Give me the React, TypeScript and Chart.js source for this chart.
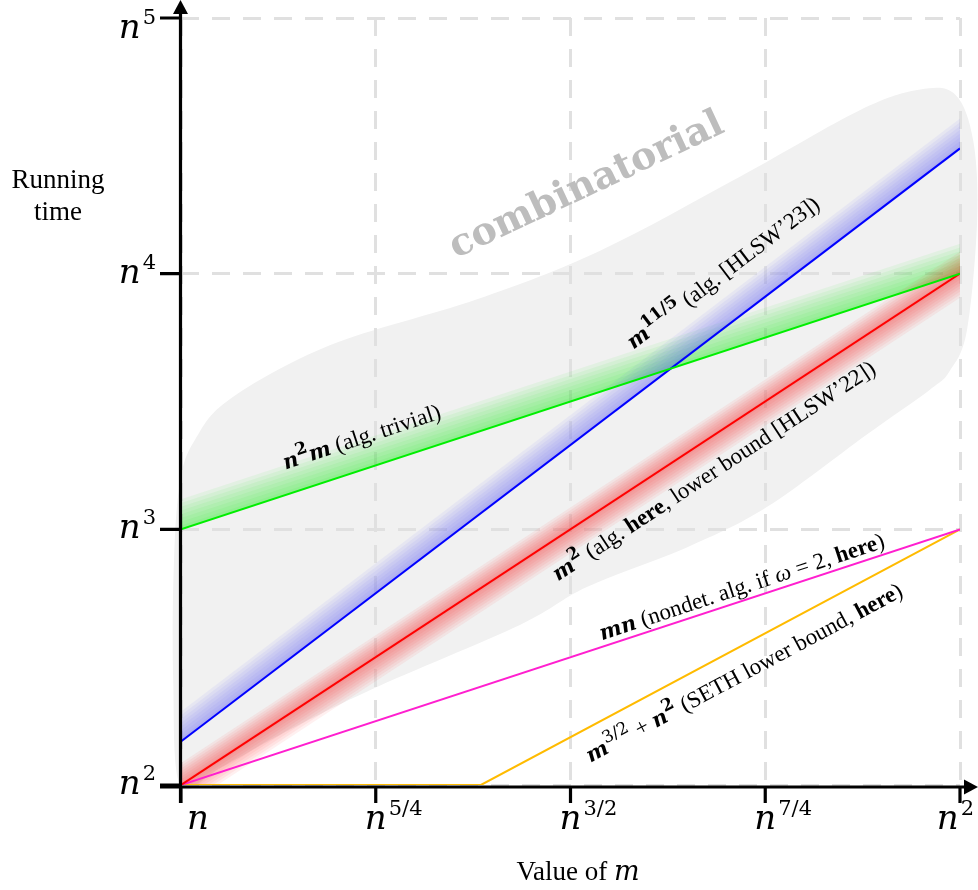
import React, { useEffect, useRef } from 'react';
import { Chart, registerables } from 'chart.js';

Chart.register(...registerables);

// ---- axis ticks (exponents of n) ----
const xTicks = [1, 1.25, 1.5, 1.75, 2];
const xTickSup = ['', '5/4', '3/2', '7/4', '2'];
const yTicks = [2, 3, 4, 5];
const yTickSup = ['2', '3', '4', '5'];

// ---- series (x = log_n m, y = log_n running time) ----
const greenX = [1, 2];
const greenY = [3, 4];
const blueX = [1, 2];
const blueY = [2.17, 4.49];
const redX = [1, 2];
const redY = [2, 4];
const magentaX = [1, 2];
const magentaY = [2, 3];
const orangeX = [1, 1.385, 2];
const orangeY = [2, 2, 3];

// ---- "combinatorial" region outline ----
const blobX = [0.999, 0.99, 0.991, 0.999, 1.018, 1.063, 1.191, 1.38, 1.538, 1.718, 1.872, 1.949, 1.994, 2.017, 2.022, 2.009, 1.987, 1.961, 1.88, 1.752, 1.65, 1.521, 1.435, 1.243, 1.127, 1.05];
const blobY = [2.0, 2.41, 2.88, 3.19, 3.35, 3.51, 3.72, 3.9, 4.09, 4.38, 4.64, 4.72, 4.7, 4.52, 4.21, 3.78, 3.62, 3.545, 3.37, 3.087, 2.93, 2.774, 2.626, 2.372, 2.196, 2.066];

type Seg = { t: string; b?: boolean; i?: boolean; sup?: boolean; math?: boolean };

const labels: { ds: number; seg?: number; x: number; y: number; segs: Seg[] }[] = [
  { ds: 0, x: 1.232, y: 3.36, segs: [{ t: 'n', b: true, i: true, math: true }, { t: '2', sup: true, b: true, math: true }, { t: 'm', b: true, i: true, math: true }, { t: ' (alg. trivial)' }] },
  { ds: 1, x: 1.696, y: 4.003, segs: [{ t: 'm', b: true, i: true, math: true }, { t: '11/5', sup: true, b: true, math: true }, { t: ' (alg. [HLSW\u201923])' }] },
  { ds: 2, x: 1.684, y: 3.228, segs: [{ t: 'm', b: true, i: true, math: true }, { t: '2', sup: true, b: true, math: true }, { t: ' (alg. ' }, { t: 'here', b: true }, { t: ', lower bound [HLSW\u201922])' }] },
  { ds: 3, x: 1.72, y: 2.774, segs: [{ t: 'mn', b: true, i: true, math: true }, { t: ' (nondet. alg. if ' }, { t: '\u03c9', i: true }, { t: ' = 2, ' }, { t: 'here', b: true }, { t: ')' }] },
  { ds: 4, seg: 1, x: 1.723, y: 2.438, segs: [{ t: 'm', b: true, i: true, math: true }, { t: '3/2', sup: true, math: true }, { t: ' + ' }, { t: 'n', b: true, i: true, math: true }, { t: '2', sup: true, b: true, math: true }, { t: ' (SETH lower bound, ' }, { t: 'here', b: true }, { t: ')' }] },
];

const regionLabel = { text: 'combinatorial', x: 1.521, y: 4.343, angle: -25.2 };

function mk(xs: number[], ys: number[]) {
  return xs.map((x, i) => ({ x, y: ys[i] }));
}

function segFont(s: Seg, size: number) {
  const sz = s.sup ? Math.round(size * 0.72) : size;
  const fam = s.math ? '"DejaVu Serif"' : '"Liberation Serif"';
  const msz = s.math && !s.sup ? sz - 2 : sz;
  return `${s.i ? 'italic ' : ''}${s.b ? 'bold ' : ''}${msz}px ${fam}`;
}

function drawRich(ctx: CanvasRenderingContext2D, segs: Seg[], x: number, y: number, angle: number, size: number) {
  ctx.save();
  ctx.translate(x, y);
  ctx.rotate(angle);
  const widths = segs.map((s) => {
    ctx.font = segFont(s, size);
    return ctx.measureText(s.t).width;
  });
  const total = widths.reduce((a, b) => a + b, 0);
  let cx = -total / 2;
  ctx.textBaseline = 'alphabetic';
  ctx.fillStyle = '#000';
  segs.forEach((s, i) => {
    ctx.font = segFont(s, size);
    ctx.fillText(s.t, cx, size * 0.3 + (s.sup ? -size * 0.42 : 0));
    cx += widths[i];
  });
  ctx.restore();
}

function closedSpline(ctx: CanvasRenderingContext2D, pts: { x: number; y: number }[]) {
  const n = pts.length;
  ctx.moveTo(pts[0].x, pts[0].y);
  for (let i = 0; i < n; i++) {
    const p0 = pts[(i - 1 + n) % n], p1 = pts[i], p2 = pts[(i + 1) % n], p3 = pts[(i + 2) % n];
    ctx.bezierCurveTo(
      p1.x + (p2.x - p0.x) / 6, p1.y + (p2.y - p0.y) / 6,
      p2.x - (p3.x - p1.x) / 6, p2.y - (p3.y - p1.y) / 6,
      p2.x, p2.y
    );
  }
  ctx.closePath();
}

const decorPlugin = {
  id: 'decor',
  beforeDraw(chart: any) {
    const { ctx, scales } = chart;
    const xs = scales.x, ys = scales.y;
    const pts = blobX.map((x, i) => ({ x: xs.getPixelForValue(x), y: ys.getPixelForValue(blobY[i]) }));
    ctx.save();
    ctx.beginPath();
    closedSpline(ctx, pts);
    ctx.fillStyle = '#f1f1f1';
    ctx.fill();
    ctx.restore();
  },
  beforeDatasetsDraw(chart: any) {
    const { ctx, chartArea } = chart;
    ctx.save();
    ctx.beginPath();
    ctx.rect(chartArea.left, chartArea.top, chartArea.right - chartArea.left, chartArea.bottom - chartArea.top);
    ctx.clip();
    chart.data.datasets.forEach((ds: any, di: number) => {
      const g = ds.glow;
      if (!g) return;
      const meta = chart.getDatasetMeta(di);
      const p = meta.data.map((e: any) => ({ x: e.x, y: e.y }));
      const N = 8;
      for (let k = N; k >= 1; k--) {
        const up = (g.up * k) / N, down = (g.down * k) / N;
        ctx.beginPath();
        p.forEach((q: any, i: number) => (i ? ctx.lineTo(q.x, q.y - up) : ctx.moveTo(q.x, q.y - up)));
        for (let i = p.length - 1; i >= 0; i--) ctx.lineTo(p[i].x, p[i].y + down);
        ctx.closePath();
        ctx.fillStyle = `rgba(${g.rgb},${g.a})`;
        ctx.fill();
      }
    });
    ctx.restore();

    // region label
    const xs = chart.scales.x, ys = chart.scales.y;
    ctx.save();
    ctx.translate(xs.getPixelForValue(regionLabel.x), ys.getPixelForValue(regionLabel.y));
    ctx.rotate((regionLabel.angle * Math.PI) / 180);
    ctx.font = 'bold 38px "DejaVu Serif"';
    ctx.fillStyle = '#bdbdbd';
    ctx.textAlign = 'center';
    ctx.textBaseline = 'middle';
    ctx.fillText(regionLabel.text, 0, 0);
    ctx.restore();
  },
  afterDatasetsDraw(chart: any) {
    const { ctx } = chart;
    const xs = chart.scales.x, ys = chart.scales.y;
    labels.forEach((l) => {
      const meta = chart.getDatasetMeta(l.ds);
      const s = l.seg || 0;
      const a = meta.data[s], b = meta.data[s + 1];
      const ang = Math.atan2(b.y - a.y, b.x - a.x);
      drawRich(ctx, l.segs, xs.getPixelForValue(l.x), ys.getPixelForValue(l.y), ang, 23);
    });
  },
  afterDraw(chart: any) {
    const { ctx, chartArea } = chart;
    const xs = chart.scales.x, ys = chart.scales.y;
    const L = chartArea.left - 0.5;
    const B = chartArea.bottom + 2;
    ctx.save();
    ctx.strokeStyle = '#000';
    ctx.fillStyle = '#000';
    ctx.lineWidth = 3.2;
    ctx.lineCap = 'butt';
    // axes
    ctx.beginPath();
    ctx.moveTo(L, B + 16);
    ctx.lineTo(L, 10);
    ctx.moveTo(160, B);
    ctx.lineTo(968, B);
    // ticks
    yTicks.forEach((v) => {
      const py = ys.getPixelForValue(v);
      ctx.moveTo(160, py);
      ctx.lineTo(L, py);
    });
    xTicks.forEach((v) => {
      const px = xs.getPixelForValue(v);
      ctx.moveTo(px, B);
      ctx.lineTo(px, B + 16);
    });
    ctx.stroke();
    // arrows
    ctx.beginPath();
    ctx.moveTo(L, 0);
    ctx.lineTo(L - 7.5, 14);
    ctx.lineTo(L + 7.5, 14);
    ctx.closePath();
    ctx.fill();
    ctx.beginPath();
    ctx.moveTo(978, B);
    ctx.lineTo(964, B - 7.5);
    ctx.lineTo(964, B + 7.5);
    ctx.closePath();
    ctx.fill();

    // tick labels
    const nFont = 'italic 34px "DejaVu Serif"';
    const supFont = '21px "DejaVu Serif"';
    ctx.textBaseline = 'alphabetic';
    ctx.textAlign = 'left';
    xTicks.forEach((v, i) => {
      const px = xs.getPixelForValue(v);
      ctx.font = nFont;
      const nW = ctx.measureText('n').width;
      ctx.font = supFont;
      const sW = ctx.measureText(xTickSup[i]).width;
      let x0 = px - nW / 2;
      if (i === 0) x0 = px + 6;
      if (i === xTicks.length - 1) x0 = px + 14 - nW - sW - 2;
      const base = 829;
      ctx.font = nFont;
      ctx.fillText('n', x0, base);
      ctx.font = supFont;
      ctx.fillText(xTickSup[i], x0 + nW + 2, base - 14);
    });
    yTicks.forEach((v, i) => {
      const py = ys.getPixelForValue(v);
      ctx.font = nFont;
      const nW = ctx.measureText('n').width;
      ctx.font = supFont;
      const sW = ctx.measureText(yTickSup[i]).width;
      const x0 = 156 - nW - sW - 2;
      const base = Math.max(py + 9, 38);
      ctx.font = nFont;
      ctx.fillText('n', x0, base);
      ctx.font = supFont;
      ctx.fillText(yTickSup[i], x0 + nW + 2, base - 14);
    });

    // axis titles
    ctx.font = '27px "Liberation Serif"';
    ctx.textAlign = 'center';
    ctx.fillText('Running', 58, 188);
    ctx.fillText('time', 58, 220);
    ctx.textAlign = 'left';
    ctx.font = '27px "Liberation Serif"';
    const t1 = 'Value of ';
    const w1 = ctx.measureText(t1).width;
    ctx.font = 'italic 27px "DejaVu Serif"';
    const w2 = ctx.measureText('m').width;
    const sx = 578 - (w1 + w2) / 2;
    ctx.font = '27px "Liberation Serif"';
    ctx.fillText(t1, sx, 880);
    ctx.font = 'italic 27px "DejaVu Serif"';
    ctx.fillText('m', sx + w1, 880);
    ctx.restore();
  },
};

export default function App() {
  const ref = useRef<HTMLCanvasElement>(null);
  useEffect(() => {
    if (!ref.current) return;
    const chart = new Chart(ref.current, {
      type: 'line',
      data: {
        datasets: [
          { data: mk(greenX, greenY), borderColor: '#00ee00', glow: { up: 30, down: 0, rgb: '0,235,0', a: 0.06 } } as any,
          { data: mk(blueX, blueY), borderColor: '#0000ff', glow: { up: 30, down: 0, rgb: '90,90,255', a: 0.065 } } as any,
          { data: mk(redX, redY), borderColor: '#ff0000', glow: { up: 22, down: 24, rgb: '255,40,40', a: 0.07 } } as any,
          { data: mk(magentaX, magentaY), borderColor: '#ff1fcf' },
          { data: mk(orangeX, orangeY), borderColor: '#ffbb00' },
        ],
      },
      options: {
        animation: false,
        responsive: true,
        maintainAspectRatio: false,
        layout: { padding: { left: 181, right: 18, top: 18, bottom: 105 } },
        elements: { point: { radius: 0 }, line: { borderWidth: 2, tension: 0 } },
        plugins: { legend: { display: false }, tooltip: { enabled: false } },
        scales: {
          x: {
            type: 'linear',
            min: 1,
            max: 2,
            ticks: { display: false, stepSize: 0.25 },
            grid: { color: '#e0e0e0', lineWidth: 3, drawTicks: false },
            border: { display: false, dash: [18, 13] },
          },
          y: {
            type: 'linear',
            min: 2,
            max: 5,
            ticks: { display: false, stepSize: 1 },
            grid: { color: '#e0e0e0', lineWidth: 3, drawTicks: false },
            border: { display: false, dash: [18, 13] },
          },
        },
      },
      plugins: [decorPlugin],
    });
    return () => chart.destroy();
  }, []);
  return (
    <div style={{ position: 'absolute', left: 0, top: 0, width: 978, height: 890 }}>
      <canvas ref={ref} />
    </div>
  );
}
